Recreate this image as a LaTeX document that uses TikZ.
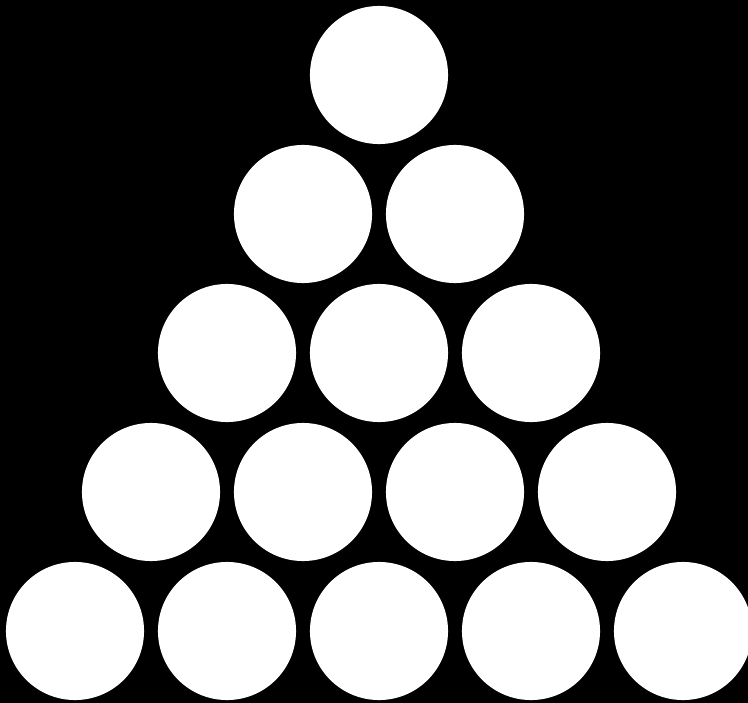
\documentclass[tikz,border=0pt]{standalone}
\usepackage{tikz}

\begin{document}
\begin{tikzpicture}[
  x=0.01cm, y=-0.01cm,
  ball/.style={circle, fill=white, draw=none, inner sep=0pt,
               minimum size=1.38cm}
]
  % black background, fixes the page size
  \fill[black] (0,0) rectangle (748,703);
  \useasboundingbox (0,0) rectangle (748,703);

  % five rows of balls
  \foreach \r in {0,...,4}{
    \foreach \c in {0,...,\r}{
      \node[ball] (b-\r-\c) at ({379+(\c-\r/2)*152}, {75+\r*139}) {};
    }
  }
\end{tikzpicture}
\end{document}
